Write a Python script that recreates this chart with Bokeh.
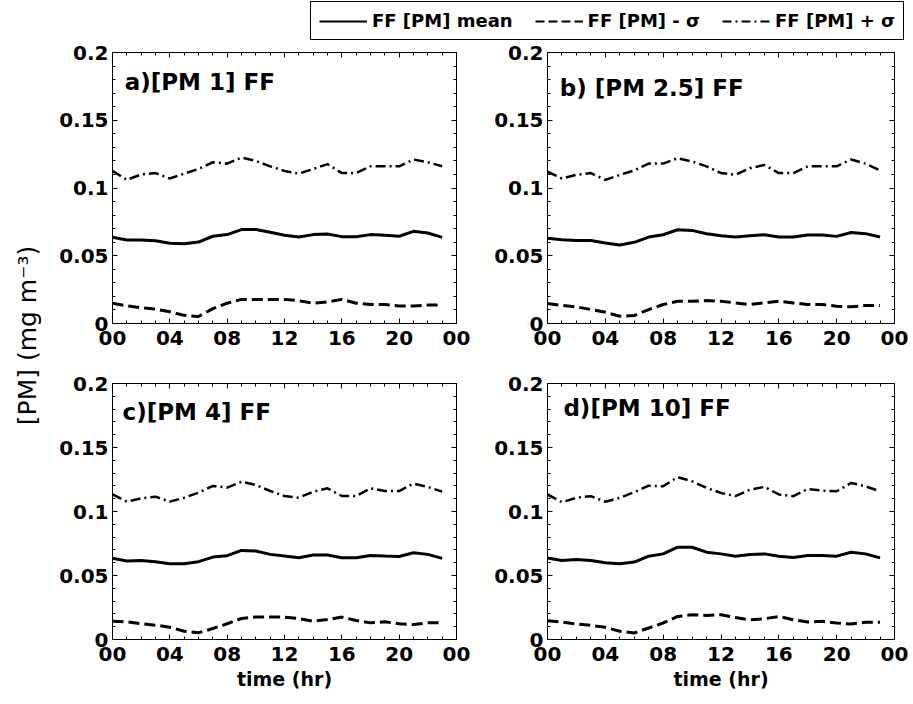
import math
from bokeh.plotting import figure
from bokeh.models import FixedTicker, LinearAxis, Range1d, Label, Legend, LegendItem
from bokeh.layouts import row, column
from bokeh.embed import file_html
from bokeh.resources import INLINE

# ---------------- data ----------------
hours = list(range(24))
x_ticks = [0, 4, 8, 12, 16, 20, 24]
x_tick_labels = ["00", "04", "08", "12", "16", "20", "00"]
y_ticks = [0, 0.05, 0.1, 0.15, 0.2]
y_tick_labels = ["0", "0.05", "0.1", "0.15", "0.2"]
panel_titles = ["a)[PM 1] FF", "b) [PM 2.5] FF", "c)[PM 4] FF", "d)[PM 10] FF"]
legend_labels = ["FF [PM] mean", "FF [PM] - σ", "FF [PM] + σ"]
x_label = "time (hr)"
y_label = "[PM] (mg m⁻³)"

mean_a = [0.0636, 0.0616, 0.0616, 0.0611, 0.0592, 0.0589, 0.0601, 0.0644, 0.0656, 0.0693, 0.0693, 0.0673,
          0.0651, 0.0639, 0.0656, 0.0660, 0.0641, 0.0641, 0.0656, 0.0651, 0.0644, 0.0680, 0.0668, 0.0636]
plus_a = [0.1126, 0.1060, 0.1100, 0.1110, 0.1070, 0.1106, 0.1140, 0.1190, 0.1180, 0.1225, 0.1200, 0.1160,
          0.1126, 0.1106, 0.1140, 0.1176, 0.1110, 0.1110, 0.1160, 0.1160, 0.1160, 0.1210, 0.1190, 0.1160]
minus_a = [0.0150, 0.0130, 0.0116, 0.0106, 0.0087, 0.0060, 0.0052, 0.0110, 0.0150, 0.0178, 0.0178, 0.0178,
           0.0178, 0.0168, 0.0150, 0.0160, 0.0178, 0.0150, 0.0140, 0.0140, 0.0130, 0.0130, 0.0136, 0.0136]

mean_b = [0.0630, 0.0618, 0.0613, 0.0613, 0.0594, 0.0580, 0.0599, 0.0638, 0.0655, 0.0692, 0.0687, 0.0663,
          0.0648, 0.0638, 0.0648, 0.0655, 0.0638, 0.0638, 0.0653, 0.0653, 0.0643, 0.0672, 0.0663, 0.0638]
plus_b = [0.1120, 0.1070, 0.1097, 0.1110, 0.1060, 0.1097, 0.1130, 0.1180, 0.1180, 0.1220, 0.1195, 0.1160,
          0.1110, 0.1097, 0.1146, 0.1170, 0.1110, 0.1110, 0.1160, 0.1160, 0.1160, 0.1210, 0.1180, 0.1130]
minus_b = [0.0147, 0.0133, 0.0123, 0.0103, 0.0083, 0.0054, 0.0059, 0.0103, 0.0140, 0.0164, 0.0164, 0.0169,
           0.0164, 0.0152, 0.0140, 0.0152, 0.0164, 0.0152, 0.0140, 0.0140, 0.0128, 0.0123, 0.0133, 0.0133]

mean_c = [0.0634, 0.0613, 0.0618, 0.0608, 0.0592, 0.0592, 0.0608, 0.0644, 0.0655, 0.0696, 0.0691, 0.0665,
          0.0652, 0.0639, 0.0660, 0.0660, 0.0639, 0.0639, 0.0657, 0.0652, 0.0649, 0.0678, 0.0665, 0.0634]
plus_c = [0.1134, 0.1077, 0.1103, 0.1116, 0.1077, 0.1108, 0.1147, 0.1200, 0.1186, 0.1233, 0.1207, 0.1160,
          0.1121, 0.1108, 0.1155, 0.1181, 0.1121, 0.1121, 0.1181, 0.1160, 0.1160, 0.1218, 0.1192, 0.1155]
minus_c = [0.0143, 0.0138, 0.0123, 0.0112, 0.0096, 0.0065, 0.0052, 0.0086, 0.0123, 0.0164, 0.0175, 0.0175,
           0.0175, 0.0164, 0.0143, 0.0156, 0.0175, 0.0149, 0.0130, 0.0138, 0.0123, 0.0117, 0.0130, 0.0130]

mean_d = [0.0636, 0.0618, 0.0625, 0.0618, 0.0600, 0.0592, 0.0605, 0.0651, 0.0669, 0.0721, 0.0721, 0.0682,
          0.0669, 0.0651, 0.0664, 0.0669, 0.0651, 0.0641, 0.0656, 0.0656, 0.0651, 0.0682, 0.0669, 0.0638]
plus_d = [0.1133, 0.1073, 0.1107, 0.1120, 0.1076, 0.1107, 0.1151, 0.1202, 0.1197, 0.1269, 0.1236, 0.1184,
          0.1145, 0.1120, 0.1171, 0.1192, 0.1133, 0.1120, 0.1176, 0.1163, 0.1158, 0.1223, 0.1197, 0.1158]
minus_d = [0.0147, 0.0136, 0.0121, 0.0111, 0.0095, 0.0064, 0.0051, 0.0090, 0.0129, 0.0180, 0.0193, 0.0188,
           0.0193, 0.0172, 0.0154, 0.0162, 0.0180, 0.0154, 0.0136, 0.0142, 0.0129, 0.0121, 0.0134, 0.0134]

# ---------------- styling ----------------
FONT = "DejaVu Sans"
DASH_MINUS = "11 5"
DASH_PLUS = "10 4 2 4"


def style_main_axis(ax, ticks, labels):
    ax.major_label_overrides = dict(zip(ticks, labels))
    ax.major_label_text_font = FONT
    ax.major_label_text_font_style = "bold"
    ax.major_label_text_font_size = "20px"
    ax.major_label_text_color = "black"
    ax.major_label_standoff = 5
    ax.axis_line_color = "black"
    ax.major_tick_line_color = "black"
    ax.minor_tick_line_color = "black"
    ax.major_tick_in = 5
    ax.major_tick_out = 0
    ax.minor_tick_in = 3
    ax.minor_tick_out = 0


def mirror_axis(ticker):
    return LinearAxis(ticker=ticker, major_label_text_color=None, major_label_text_font_size="1px",
                      major_label_standoff=0, axis_line_color="black",
                      major_tick_line_color="black", minor_tick_line_color="black",
                      major_tick_in=5, major_tick_out=0, minor_tick_in=3, minor_tick_out=0)


def make_panel(mean, minus, plus, title, title_x, title_y, width, height,
               left, right, top, bottom, with_xlabel):
    p = figure(width=width, height=height, x_range=Range1d(0, 24), y_range=Range1d(0, 0.2),
               output_backend="svg", toolbar_location=None,
               min_border_left=left, min_border_right=right,
               min_border_top=top, min_border_bottom=bottom)
    p.grid.visible = False
    p.outline_line_color = "black"
    p.outline_line_width = 1
    p.background_fill_color = "white"
    p.border_fill_color = "white"

    xt = FixedTicker(ticks=x_ticks, minor_ticks=list(range(25)))
    yt = FixedTicker(ticks=y_ticks, minor_ticks=[round(0.01 * i, 2) for i in range(21)])
    xa = p.below[0]
    ya = p.left[0]
    xa.ticker = xt
    ya.ticker = yt
    style_main_axis(xa, x_ticks, x_tick_labels)
    style_main_axis(ya, y_ticks, y_tick_labels)
    ya.major_label_standoff = 4
    xa.major_label_standoff = 7
    if with_xlabel:
        xa.axis_label = x_label
        xa.axis_label_text_font = FONT
        xa.axis_label_text_font_style = "bold"
        xa.axis_label_text_font_size = "19px"
        xa.axis_label_text_color = "black"
        xa.axis_label_standoff = 4
    p.add_layout(mirror_axis(yt), "right")
    p.add_layout(mirror_axis(xt), "above")

    p.line(hours, plus, line_color="black", line_width=2.5, line_dash=DASH_PLUS)
    p.line(hours, mean, line_color="black", line_width=3)
    p.line(hours, minus, line_color="black", line_width=3, line_dash=DASH_MINUS)

    p.add_layout(Label(x=title_x, y=title_y, text=title, text_font=FONT, text_font_style="bold",
                       text_font_size="23px", text_baseline="middle", text_align="left",
                       text_color="black"))
    return p


pa = make_panel(mean_a, minus_a, plus_a, panel_titles[0], 0.85, 0.1785, 438, 320, 62, 32, 12, 37, False)
pb = make_panel(mean_b, minus_b, plus_b, panel_titles[1], 0.85, 0.1735, 425, 320, 59, 19, 12, 37, False)
pc = make_panel(mean_c, minus_c, plus_c, panel_titles[2], 0.7, 0.1775, 438, 344, 62, 32, 23, 65, True)
pd = make_panel(mean_d, minus_d, plus_d, panel_titles[3], 1.1, 0.1805, 425, 344, 59, 19, 23, 65, True)

# legend strip (dummy renderers sit below the strip's visible range)
leg = figure(width=863, height=40, x_range=Range1d(0, 1), y_range=Range1d(0, 1),
             x_axis_location=None, y_axis_location=None, min_border=0,
             output_backend="svg", toolbar_location=None)
leg.grid.visible = False
leg.outline_line_color = None
dummy_x = [0, 1]
dummy_y = [-5, -5]
r0 = leg.line(x=dummy_x, y=dummy_y, line_color="black", line_width=2)
r1 = leg.line(x=dummy_x, y=dummy_y, line_color="black", line_width=2, line_dash="9 4")
r2 = leg.line(x=dummy_x, y=dummy_y, line_color="black", line_width=2, line_dash="9 4 2 4")
legend = Legend(items=[LegendItem(label=legend_labels[0], renderers=[r0]),
                       LegendItem(label=legend_labels[1], renderers=[r1]),
                       LegendItem(label=legend_labels[2], renderers=[r2])],
                location=(260, 0), orientation="horizontal", glyph_width=48, glyph_height=20,
                label_standoff=5, spacing=22, padding=8, margin=0,
                border_line_color="black", border_line_width=1, border_line_alpha=1,
                label_text_font=FONT, label_text_font_style="bold", label_text_font_size="18px",
                label_text_color="black",
                background_fill_color="white", background_fill_alpha=1)
leg.add_layout(legend)

# y label strip
ylab = figure(width=50, height=704, x_range=Range1d(0, 50), y_range=Range1d(0, 704),
              x_axis_location=None, y_axis_location=None, min_border=0,
              output_backend="svg", toolbar_location=None)
ylab.grid.visible = False
ylab.outline_line_color = None
ylab.add_layout(Label(x=27, y=704 - 335, text=y_label, angle=math.pi / 2, text_align="center",
                      text_baseline="middle", text_font=FONT, text_font_size="25px",
                      text_color="black"))

root = row(ylab, column(leg, row(pa, pb), row(pc, pd)))

open("out.html", "w").write(file_html(root, INLINE))
